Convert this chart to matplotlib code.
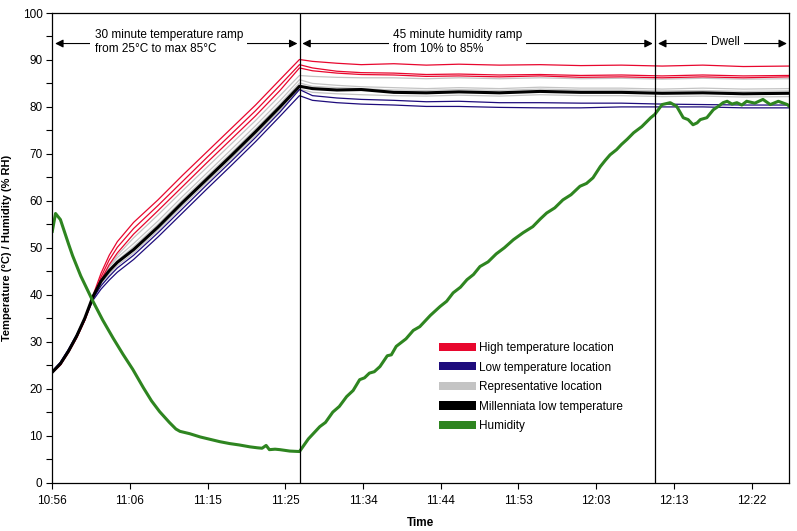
"""Chamber profile: temperature ramp, humidity ramp and dwell."""

import matplotlib
matplotlib.use("Agg")
import matplotlib.pyplot as plt
from matplotlib.patches import Patch

plt.rcParams["font.family"] = ["Liberation Sans", "DejaVu Sans"]

# minutes since 10:56
tick_labels = ["10:56", "11:06", "11:15", "11:25", "11:34", "11:44", "11:53", "12:03", "12:13", "12:22"]
tick_step = 9.556
t_end = 90.6
phase_marks = [30.44, 74.18]

t_temp = [0, 1, 2, 3, 4, 5, 6, 7, 8, 10, 13, 16, 19, 22, 25, 28, 30.4,
          32, 35, 38, 42, 46, 50, 55, 60, 65, 70, 75, 80, 85, 90.6]

high_1 = [23.4, 25.0, 27.7, 30.8, 34.6, 39.8, 44.6, 48.4, 51.3, 55.4, 60.2, 65.4, 70.4, 75.4, 80.4, 85.8, 90.1,
          89.7, 89.3, 89.0, 89.2, 88.9, 89.1, 88.9, 89.0, 88.8, 88.9, 88.7, 88.9, 88.6, 88.7]
high_2 = [23.4, 25.1, 27.8, 30.9, 34.6, 39.4, 43.8, 47.4, 50.1, 54.1, 59.0, 64.1, 69.2, 74.2, 79.2, 84.6, 89.0,
          88.3, 87.6, 87.3, 87.2, 86.9, 87.0, 86.8, 86.9, 86.7, 86.8, 86.6, 86.8, 86.6, 86.7]
high_3 = [23.5, 25.1, 27.8, 30.9, 34.6, 39.0, 43.1, 46.4, 48.9, 52.9, 57.9, 63.0, 68.1, 73.1, 78.1, 83.5, 88.3,
          87.7, 87.2, 86.9, 86.8, 86.5, 86.6, 86.4, 86.6, 86.3, 86.4, 86.2, 86.4, 86.2, 86.4]
rep_1 = [23.6, 25.3, 28.0, 31.1, 34.9, 39.3, 43.1, 46.1, 48.4, 52.1, 57.0, 62.1, 67.1, 72.1, 77.1, 82.4, 86.7,
         86.5, 86.3, 86.2, 86.2, 86.0, 86.2, 86.0, 86.2, 86.0, 86.1, 85.9, 86.1, 85.9, 86.0]
rep_2 = [23.5, 25.3, 28.0, 31.2, 35.0, 39.6, 43.4, 45.9, 47.9, 50.9, 55.7, 60.9, 65.9, 70.9, 76.0, 81.3, 85.8,
         85.0, 84.6, 84.3, 84.1, 83.9, 84.1, 83.9, 84.2, 84.0, 84.0, 83.8, 84.0, 83.8, 83.9]
rep_3 = [23.5, 25.2, 27.9, 31.1, 35.0, 39.7, 43.1, 45.4, 47.3, 50.2, 55.0, 60.2, 65.2, 70.2, 75.3, 80.6, 85.1,
         84.4, 84.1, 83.9, 83.6, 83.5, 83.7, 83.5, 83.8, 83.6, 83.6, 83.4, 83.5, 83.3, 83.4]
rep_4 = [23.6, 25.4, 28.1, 31.3, 35.0, 39.3, 42.4, 44.4, 46.2, 48.9, 53.7, 58.9, 63.9, 68.9, 74.0, 79.3, 83.8,
         83.1, 82.8, 82.6, 82.4, 82.3, 82.5, 82.3, 82.6, 82.4, 82.4, 82.2, 82.3, 82.1, 82.2]
millenniata = [23.5, 25.3, 28.0, 31.2, 35.0, 39.6, 42.9, 45.1, 46.9, 49.6, 54.4, 59.6, 64.6, 69.6, 74.7, 80.0, 84.4,
               83.9, 83.6, 83.7, 83.1, 83.0, 83.2, 83.0, 83.3, 83.1, 83.1, 82.9, 83.0, 82.8, 82.9]
low_1 = [23.7, 25.6, 28.4, 31.5, 35.1, 39.2, 41.9, 43.9, 45.7, 48.4, 53.2, 58.3, 63.4, 68.4, 73.5, 78.9, 83.7,
         82.4, 81.9, 81.6, 81.4, 81.1, 81.2, 80.9, 80.9, 80.8, 80.8, 80.6, 80.5, 80.4, 80.4]
low_2 = [23.7, 25.6, 28.3, 31.4, 34.9, 38.8, 41.2, 43.1, 44.8, 47.5, 52.3, 57.4, 62.5, 67.5, 72.6, 78.0, 82.4,
         81.4, 80.9, 80.6, 80.4, 80.1, 80.1, 79.9, 79.8, 79.8, 80.0, 80.0, 80.0, 79.8, 79.8]

t_hum = [0, 0.4, 1, 2, 2.5, 3.5, 5.0, 6.2, 7.5, 8.7, 9.9, 11.2, 12.2, 13.2, 14.4, 15.2, 15.7, 16.9, 18.2,
         19.4, 20.6, 21.8, 23.0, 24.3, 25.2, 25.8, 26.3, 26.7, 27.4, 28.0, 29.2, 30.4,
         31.5, 32.9, 33.6, 34.5, 35.3, 36.2, 37.0, 37.8, 38.4, 39.0, 39.6, 40.3, 41.2, 41.7, 42.3, 43.5,
         44.4, 45.2, 46.5, 47.7, 48.5, 49.3, 50.2, 51.0, 51.8, 52.6, 53.6, 54.6, 55.6, 56.7, 57.9, 59.1,
         60.0, 60.8, 61.8, 62.8, 63.8, 64.9, 65.7, 66.5, 67.4, 68.0, 68.6, 69.4, 70.0, 70.7, 71.5, 72.5,
         73.6, 74.1, 75.0, 76.0, 76.8, 77.6, 78.2, 78.8, 79.3, 79.7, 80.5, 81.3, 81.9, 82.5, 83.0, 83.6,
         84.2, 84.8, 85.4, 86.4, 87.4, 88.3, 89.3, 90.4, 90.6]
humidity = [53.5, 57.3, 56.0, 50.8, 48.3, 44.0, 38.6, 34.6, 30.7, 27.3, 24.1, 20.2, 17.4, 15.1, 12.8, 11.4, 10.9,
            10.4, 9.7, 9.2, 8.7, 8.3, 8.0, 7.6, 7.4, 7.3, 7.9, 7.0, 7.1, 7.0, 6.7, 6.6,
            9.3, 11.9, 12.8, 15.0, 16.2, 18.3, 19.6, 21.9, 22.3, 23.3, 23.6, 24.7, 27.0, 27.2, 29.0, 30.6,
            32.4, 33.2, 35.6, 37.5, 38.6, 40.4, 41.6, 43.2, 44.3, 46.0, 47.0, 48.7, 50.0, 51.7, 53.2, 54.5,
            56.1, 57.4, 58.5, 60.2, 61.3, 63.1, 63.7, 64.9, 67.3, 68.6, 69.8, 70.9, 72.0, 73.1, 74.5, 75.8,
            77.7, 78.4, 80.5, 80.9, 80.1, 77.7, 77.3, 76.2, 76.6, 77.3, 77.7, 79.4, 80.1, 80.9, 81.2, 80.6,
            80.9, 80.4, 81.2, 80.8, 81.6, 80.5, 81.2, 80.5, 80.2]

red = "#E8072E"
navy = "#1E0C7C"
grey = "#C4C4C4"
green = "#2E8520"

fig = plt.figure(figsize=(7.97, 5.31), dpi=100)
ax = fig.add_axes([0.0656, 0.0913, 0.9243, 0.8842])

for series in (rep_1, rep_2, rep_3, rep_4):
    ax.plot(t_temp, series, color=grey, lw=0.9)
for series in (high_1, high_2, high_3):
    ax.plot(t_temp, series, color=red, lw=0.9)
for series in (low_1, low_2):
    ax.plot(t_temp, series, color=navy, lw=0.9)
ax.plot(t_temp, millenniata, color="black", lw=2.2)
ax.plot(t_hum, humidity, color=green, lw=2.2)

for mark in phase_marks:
    ax.axvline(mark, color="black", lw=0.9)

ax.set_xlim(0, t_end)
ax.set_ylim(0, 100)
ax.set_xticks([i * tick_step for i in range(len(tick_labels))])
ax.set_xticklabels(tick_labels)
ax.set_yticks(range(0, 101, 10))
ax.set_yticks(range(5, 100, 10), minor=True)
ax.tick_params(axis="both", which="both", direction="out", length=4, width=0.8, labelsize=8.5)
ax.tick_params(axis="x", pad=5)
ax.tick_params(axis="y", pad=3)
for spine in ax.spines.values():
    spine.set_linewidth(0.9)

ax.set_xlabel("Time", fontsize=8.5, fontweight="bold", labelpad=7)
ax.set_ylabel("Temperature (°C) / Humidity (% RH)", fontsize=8, fontweight="bold", labelpad=8)

# phase annotations with double arrows
arrow_y = 93.5
arrow_kw = dict(arrowstyle="<|-|>", color="black", lw=0.8, mutation_scale=12, shrinkA=0, shrinkB=0)
spans = [(0.35, 30.15), (30.75, 73.85), (74.5, 90.35)]
for x0, x1 in spans:
    ax.annotate("", xy=(x0, arrow_y), xytext=(x1, arrow_y), arrowprops=arrow_kw)

box = dict(facecolor="white", edgecolor="none", pad=3)
ax.text(5.2, arrow_y + 0.3, "30 minute temperature ramp\nfrom 25°C to max 85°C", fontsize=8.5,
        ha="left", va="center", bbox=box, linespacing=1.2)
ax.text(41.9, arrow_y + 0.3, "45 minute humidity ramp\nfrom 10% to 85%", fontsize=8.5,
        ha="left", va="center", bbox=box, linespacing=1.2)
ax.text(82.8, arrow_y + 0.3, "Dwell", fontsize=8.5, ha="center", va="center", bbox=box)

handles = [Patch(facecolor=red, edgecolor="none"), Patch(facecolor=navy, edgecolor="none"),
           Patch(facecolor=grey, edgecolor="none"), Patch(facecolor="black", edgecolor="none"),
           Patch(facecolor=green, edgecolor="none")]
labels = ["High temperature location", "Low temperature location", "Representative location",
          "Millenniata low temperature", "Humidity"]
fig.legend(handles, labels, loc="upper left", bbox_to_anchor=(439 / 797, 1 - 342 / 531),
           frameon=False, fontsize=8.5, borderpad=0, borderaxespad=0, handlelength=3.1,
           handleheight=0.68, handletextpad=0.28, labelspacing=0.64)

fig.savefig("out.png", dpi=100)
